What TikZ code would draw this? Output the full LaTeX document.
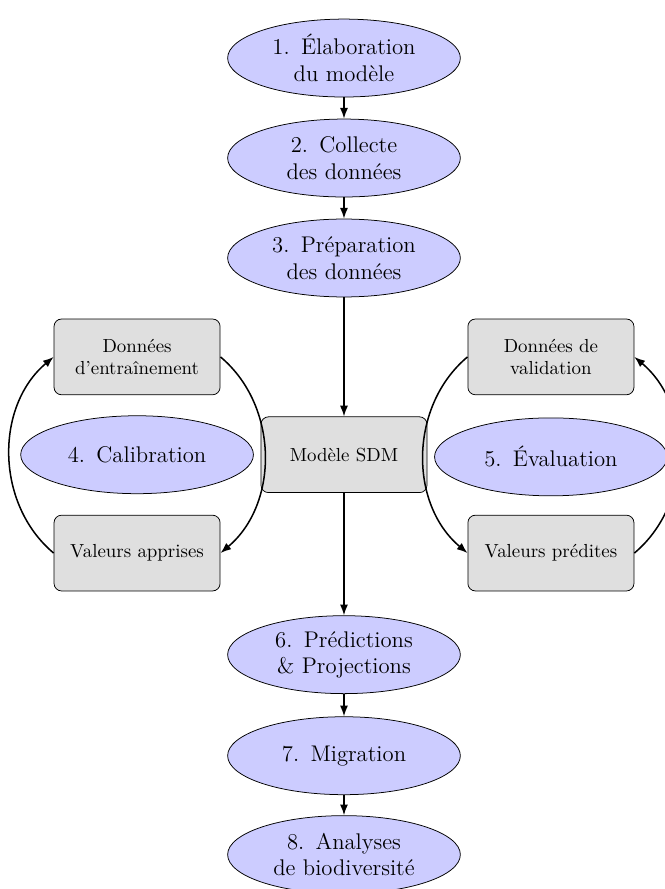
\documentclass[tikz,border=0pt]{standalone}
\usepackage{tikz}
\usetikzlibrary{arrows.meta, shapes.geometric}

\begin{document}
\begin{tikzpicture}[
  stage/.style={ellipse, draw, fill=blue!20, font=\large, align=center,
               minimum width=4.33cm, minimum height=1.45cm, inner sep=1pt},
  data/.style={rectangle, rounded corners=4pt, draw, fill=gray!25,
               align=center, minimum width=3.09cm, minimum height=1.41cm},
  arr/.style={-{Latex[length=2mm, width=1.5mm]}, thick},
]
\useasboundingbox (0,0) rectangle (12.37,-16.54);

% -- Main chain, top --------------------------
\node[stage] (elab)  at (6.40, -1.08) {1.\enspace Élaboration\\du modèle};
\node[stage] (coll)  at (6.40, -2.94) {2.\enspace Collecte\\des données};
\node[stage] (prep)  at (6.40, -4.80) {3.\enspace Préparation\\des données};

% -- Model ------------------------------------
\node[data] (sdm)   at (6.40, -8.46) {Modèle SDM};

% -- Calibration loop -------------------------
\node[data] (train) at (2.55, -6.64) {Données\\d'entraînement};
\node[stage] (calib) at (2.55, -8.46) {4.\enspace Calibration};
\node[data] (learn) at (2.55,-10.29) {Valeurs apprises};

% -- Evaluation loop --------------------------
\node[data] (valid) at (10.25, -6.64) {Données de\\validation};
\node[stage] (eval)  at (10.25, -8.50) {5.\enspace Évaluation};
\node[data] (pred)  at (10.25,-10.29) {Valeurs prédites};

% -- Main chain, bottom -----------------------
\node[stage] (proj)  at (6.40,-12.18) {6.\enspace Prédictions\\\& Projections};
\node[stage] (migr)  at (6.40,-14.06) {7.\enspace Migration};
\node[stage] (biod)  at (6.40,-15.90) {8.\enspace Analyses\\de biodiversité};

% -- Arrows: chain ----------------------------
\draw[arr] (elab) -- (coll);
\draw[arr] (coll) -- (prep);
\draw[arr] (prep) -- (sdm);
\draw[arr] (sdm)  -- (proj);
\draw[arr] (proj) -- (migr);
\draw[arr] (migr) -- (biod);

% -- Arrows: loops ----------------------------
\draw[arr] (train.east) to[bend left=50]  (learn.east);
\draw[arr] (learn.west) to[bend left=50]  (train.west);
\draw[arr] (valid.west) to[bend right=50] (pred.west);
\draw[arr] (pred.east)  to[bend right=50] (valid.east);

\end{tikzpicture}
\end{document}
